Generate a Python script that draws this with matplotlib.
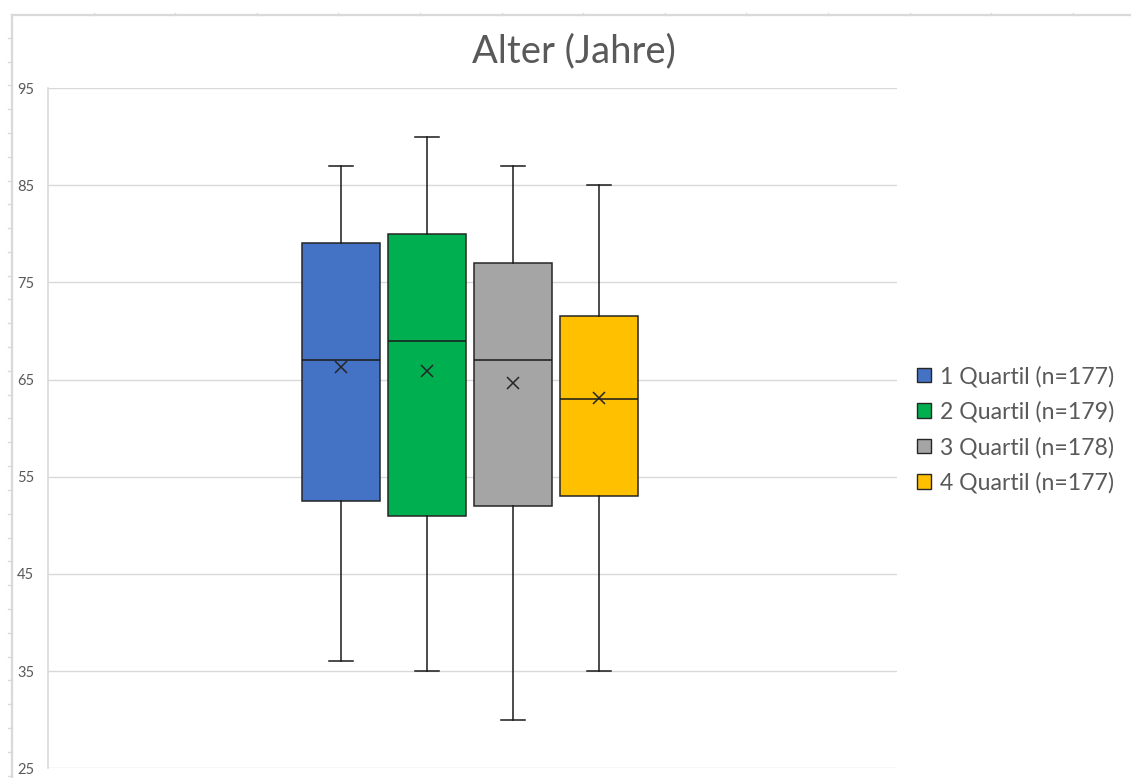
import numpy as np
import matplotlib
matplotlib.use("Agg")
import matplotlib.pyplot as plt
from matplotlib.patches import Patch
from matplotlib.lines import Line2D

# Age distribution per quartile group (five-number summary plus mean)
groups = ["1 Quartil (n=177)", "2 Quartil (n=179)", "3 Quartil (n=178)", "4 Quartil (n=177)"]
whisker_low = [36, 35, 30, 35]
q1 = [52.5, 51, 52, 53]
median = [67, 69, 67, 63]
q3 = [79, 80, 77, 71.5]
whisker_high = [87, 90, 87, 85]
mean = [66.3, 65.9, 64.6, 63.1]
colors = ["#4472C4", "#00B050", "#A5A5A5", "#FFC000"]

y_ticks = [25, 35, 45, 55, 65, 75, 85, 95]
title = "Alter (Jahre)"

plt.rcParams["font.family"] = ["Lato", "DejaVu Sans"]
TEXT = "#595959"
GRID = "#d9d9d9"

W, H = 1131, 778
fig = plt.figure(figsize=(W / 100, H / 100), dpi=100)
fig.patch.set_facecolor("white")

ax = fig.add_axes([48 / W, 1 - 768.3 / H, (897 - 48) / W, (768.3 - 88) / H])

stats = []
for i, g in enumerate(groups):
    stats.append(dict(label=g, whislo=whisker_low[i], q1=q1[i], med=median[i],
                      q3=q3[i], whishi=whisker_high[i], mean=mean[i], fliers=[]))

positions = np.arange(1, len(groups) + 1)
bp = ax.bxp(stats, positions=positions, widths=0.907, patch_artist=True,
            showmeans=True, showfliers=False, capwidths=0.27,
            boxprops=dict(edgecolor="#262626", linewidth=1.1),
            medianprops=dict(color="#1a1a1a", linewidth=1.1),
            whiskerprops=dict(color="#1a1a1a", linewidth=1.1),
            capprops=dict(color="#1a1a1a", linewidth=1.1),
            meanprops=dict(marker="x", markeredgecolor="#262626", markersize=8,
                           markeredgewidth=1.1, linestyle="none"),
            zorder=3)
for patch, c in zip(bp["boxes"], colors):
    patch.set_facecolor(c)

ax.set_xlim(1 - 3.407, 4 + 3.465)
ax.set_ylim(25, 95)
ax.set_yticks(y_ticks)
ax.set_yticklabels([str(t) for t in y_ticks], color=TEXT, fontsize=10.5)
ax.set_xticks([])
ax.tick_params(axis="y", length=0, pad=10)
ax.yaxis.grid(True, color=GRID, linewidth=1.0, zorder=0)
ax.set_axisbelow(True)
for side in ["top", "right", "bottom"]:
    ax.spines[side].set_visible(False)
ax.spines["left"].set_color(GRID)
ax.spines["left"].set_linewidth(1.2)

fig.text(574 / W, 1 - 51 / H, title, ha="center", va="center",
         fontsize=27.5, color=TEXT)

handles = [Patch(facecolor=c, edgecolor="#262626", linewidth=1.0) for c in colors]
fig.legend(handles, groups, loc="center left",
           bbox_to_anchor=(917 / W, 1 - 429.5 / H), frameon=False,
           fontsize=16.6, labelcolor=TEXT, handlelength=0.6, handleheight=0.6,
           handletextpad=0.4, labelspacing=0.6, borderaxespad=0, borderpad=0)

# outer sheet frame with small ruler ticks
frame_top = 1 - 14.7 / H
frame_left = 12 / W
fig.add_artist(Line2D([frame_left, 1], [frame_top, frame_top], transform=fig.transFigure,
                      color=GRID, linewidth=1.6))
fig.add_artist(Line2D([frame_left, frame_left], [0, frame_top], transform=fig.transFigure,
                      color=GRID, linewidth=1.6))
for xp in np.arange(12 + 81.6, W, 81.6):
    fig.add_artist(Line2D([xp / W, xp / W], [frame_top, frame_top + 2 / H],
                          transform=fig.transFigure, color=GRID, linewidth=1.0))
for yp in np.arange(37.7, H, 23.8):
    fig.add_artist(Line2D([8 / W, frame_left], [1 - yp / H, 1 - yp / H],
                          transform=fig.transFigure, color=GRID, linewidth=1.0))

fig.savefig("out.png", dpi=100, facecolor="white")
